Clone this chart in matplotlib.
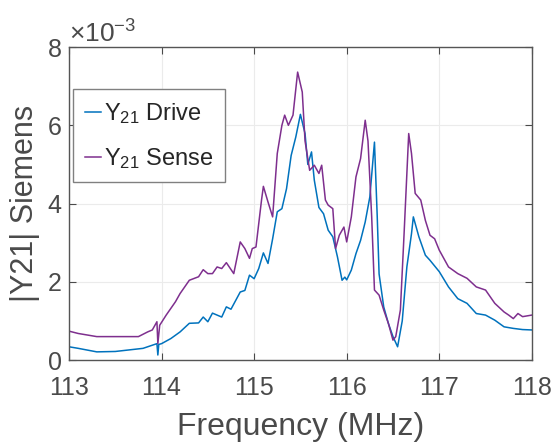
import numpy as np
import matplotlib.pyplot as plt
from matplotlib.ticker import ScalarFormatter

plt.rcParams["font.family"] = ["Liberation Sans", "DejaVu Sans"]
plt.rcParams["mathtext.fontset"] = "custom"
plt.rcParams["mathtext.rm"] = "Liberation Sans"

# frequency (MHz) and |Y21| (x1e-3 S)
drive_f = [113.0, 113.1, 113.3, 113.5, 113.8, 113.9, 113.95, 113.96, 113.97, 114.0,
           114.1, 114.2, 114.3, 114.4, 114.45, 114.5, 114.55, 114.65, 114.7, 114.75,
           114.85, 114.9, 114.95, 115.0, 115.05, 115.1, 115.15, 115.2, 115.25, 115.3,
           115.35, 115.4, 115.45, 115.5, 115.55, 115.58, 115.62, 115.65, 115.7, 115.75,
           115.8, 115.85, 115.9, 115.95, 115.98, 116.0, 116.05, 116.1, 116.15, 116.2,
           116.25, 116.3, 116.33, 116.35, 116.4, 116.45, 116.5, 116.55, 116.6, 116.65,
           116.7, 116.72, 116.78, 116.85, 116.9, 117.0, 117.1, 117.2, 117.3, 117.4,
           117.5, 117.6, 117.7, 117.8, 117.9, 118.0]
drive_y = [0.34, 0.30, 0.21, 0.22, 0.30, 0.38, 0.42, 0.13, 0.40, 0.42,
           0.55, 0.72, 0.94, 0.95, 1.10, 0.98, 1.20, 1.10, 1.36, 1.30,
           1.74, 1.78, 2.17, 2.08, 2.34, 2.74, 2.47, 3.10, 3.79, 3.87,
           4.38, 5.23, 5.70, 6.28, 5.79, 5.00, 5.32, 4.60, 3.90, 3.74,
           3.32, 3.15, 2.64, 2.04, 2.12, 2.05, 2.30, 2.72, 3.06, 3.53,
           4.17, 5.57, 3.66, 2.20, 1.36, 0.94, 0.60, 0.34, 1.00, 2.38,
           3.23, 3.66, 3.15, 2.68, 2.55, 2.26, 1.87, 1.57, 1.45, 1.19,
           1.15, 1.02, 0.85, 0.81, 0.78, 0.77]

sense_f = [113.0, 113.1, 113.3, 113.5, 113.75, 113.85, 113.9, 113.95, 113.96, 113.98,
           114.05, 114.15, 114.2, 114.3, 114.4, 114.45, 114.5, 114.55, 114.6, 114.65,
           114.7, 114.78, 114.85, 114.9, 114.95, 114.98, 115.02, 115.08, 115.1, 115.15,
           115.2, 115.25, 115.3, 115.33, 115.37, 115.42, 115.47, 115.52, 115.55, 115.6,
           115.65, 115.7, 115.73, 115.77, 115.8, 115.85, 115.88, 115.92, 115.97, 116.0,
           116.05, 116.1, 116.15, 116.2, 116.23, 116.27, 116.3, 116.35, 116.4, 116.45,
           116.5, 116.53, 116.58, 116.62, 116.67, 116.7, 116.74, 116.8, 116.85, 116.9,
           116.95, 117.0, 117.1, 117.2, 117.3, 117.4, 117.5, 117.6, 117.7, 117.75,
           117.8, 117.85, 117.9, 118.0]
sense_y = [0.74, 0.68, 0.60, 0.60, 0.60, 0.72, 0.77, 0.98, 0.42, 0.89,
           1.15, 1.49, 1.70, 2.04, 2.13, 2.31, 2.21, 2.21, 2.38, 2.34,
           2.49, 2.21, 3.02, 2.85, 2.60, 2.85, 2.89, 4.09, 4.44, 4.04,
           3.66, 5.28, 6.00, 6.26, 6.00, 6.26, 7.36, 6.85, 5.60, 4.85,
           4.98, 4.77, 4.98, 4.09, 3.96, 3.87, 2.85, 3.19, 3.40, 3.02,
           3.66, 4.68, 5.15, 6.13, 5.60, 3.66, 1.79, 1.66, 1.28, 0.94,
           0.51, 0.60, 1.28, 3.23, 5.79, 5.28, 4.26, 4.09, 3.57, 3.19,
           3.10, 2.81, 2.38, 2.21, 2.09, 1.87, 1.79, 1.45, 1.23, 1.15,
           1.06, 1.19, 1.11, 1.15]

xticks = [113, 114, 115, 116, 117, 118]
yticks = [0, 2e-3, 4e-3, 6e-3, 8e-3]

txt = "#4a4a4a"
fig = plt.figure(figsize=(5.59, 4.44), dpi=100)
ax = fig.add_axes([0.1234, 0.189, 0.828, 0.705])

ax.plot(drive_f, np.array(drive_y) * 1e-3, color="#0072BD", lw=1.1,
        label=r"$\mathregular{Y_{21}}$ Drive")
ax.plot(sense_f, np.array(sense_y) * 1e-3, color="#7E2F8E", lw=1.1,
        label=r"$\mathregular{Y_{21}}$ Sense")

ax.set_xlim(113, 118)
ax.set_ylim(0, 8e-3)
ax.set_xticks(xticks)
ax.set_yticks(yticks)

fmt = ScalarFormatter(useMathText=True)
fmt.set_powerlimits((-2, 2))
ax.yaxis.set_major_formatter(fmt)
off = ax.yaxis.get_offset_text()
off.set_fontsize(19)
off.set_color(txt)

ax.grid(True, color="#ebebeb", lw=0.8)
ax.tick_params(direction="in", top=True, right=True, labelsize=18,
               colors=txt, length=5, width=0.8)
ax.tick_params(axis="x", pad=11.5)
ax.tick_params(axis="y", pad=5)
for s in ax.spines.values():
    s.set_color("#555555")
    s.set_linewidth(1.0)

ax.set_xlabel("Frequency (MHz)", fontsize=23, color=txt, labelpad=8.5)
ax.set_ylabel("|Y21| Siemens", fontsize=22, color=txt, labelpad=5)

leg = ax.legend(loc="upper left", bbox_to_anchor=(0.009, 0.866), fontsize=17,
                handlelength=0.7, handletextpad=0.1, borderpad=0.5,
                labelspacing=0.85, borderaxespad=0.0, fancybox=False,
                framealpha=1)
leg.get_frame().set_edgecolor("#808080")
leg.get_frame().set_linewidth(1.0)
for t in leg.get_texts():
    t.set_color("#262626")

fig.savefig("out.png", dpi=100)
